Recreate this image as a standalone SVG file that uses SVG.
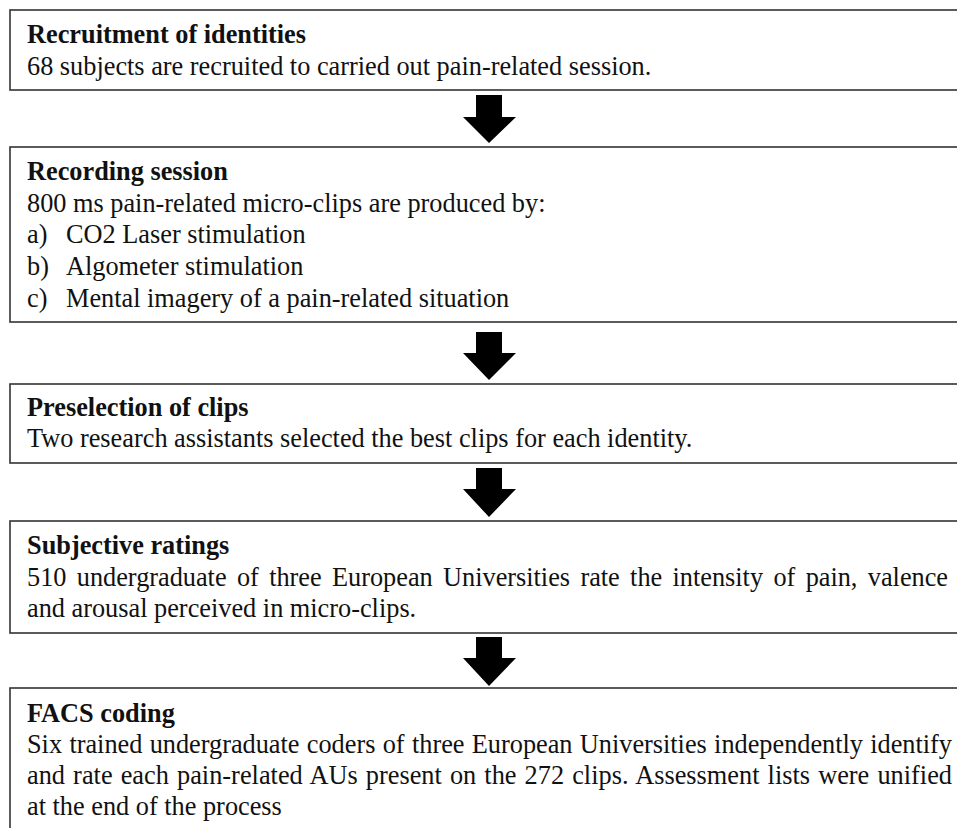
<svg xmlns="http://www.w3.org/2000/svg" width="957" height="828" viewBox="0 0 957 828">
<style>
.box{fill:#fff;stroke:#333;stroke-width:1.6}
.t{font-family:"Liberation Serif","Times New Roman",serif;font-size:26.3px;fill:#111}
.h{font-weight:bold}
.arr{fill:#000}
</style>
<rect width="957" height="828" fill="#fff"/>
<g id="connectors">
<path class="arr" d="M476,95 H502 V117 H516 L489,143 L463,117 H476 Z"/>
<path class="arr" d="M476,332 H502 V353 H516 L489,380 L463,353 H476 Z"/>
<path class="arr" d="M476,468 H502 V489 H516 L489,517 L463,489 H476 Z"/>
<path class="arr" d="M476,637 H502 V658 H516 L489,686 L463,658 H476 Z"/>
</g>
<g id="n1">
<rect class="box" x="10" y="10" width="958" height="80"/>
<text class="t h" x="27" y="43">Recruitment of identities</text>
<text class="t" x="27" y="75">68 subjects are recruited to carried out pain-related session.</text>
</g>
<g id="n2">
<rect class="box" x="10" y="147" width="958" height="175"/>
<text class="t h" x="27" y="180">Recording session</text>
<text class="t" x="27" y="212">800 ms pain-related micro-clips are produced by:</text>
<text class="t" x="27" y="243">a)</text><text class="t" x="66" y="243">CO2 Laser stimulation</text>
<text class="t" x="27" y="275">b)</text><text class="t" x="66" y="275">Algometer stimulation</text>
<text class="t" x="27" y="307">c)</text><text class="t" x="66" y="307">Mental imagery of a pain-related situation</text>
</g>
<g id="n3">
<rect class="box" x="10" y="384" width="958" height="79"/>
<text class="t h" x="27" y="416">Preselection of clips</text>
<text class="t" x="27" y="447">Two research assistants selected the best clips for each identity.</text>
</g>
<g id="n4">
<rect class="box" x="10" y="521" width="958" height="112"/>
<text class="t h" x="27" y="554">Subjective ratings</text>
<text class="t" x="27" y="586" textLength="921" lengthAdjust="spacing" word-spacing="3.8">510 undergraduate of three European Universities rate the intensity of pain, valence</text>
<text class="t" x="27" y="617">and arousal perceived in micro-clips.</text>
</g>
<g id="n5">
<rect class="box" x="10" y="688" width="958" height="160"/>
<text class="t h" x="27" y="722">FACS coding</text>
<text class="t" x="27" y="753" textLength="925" lengthAdjust="spacing" word-spacing="0.8">Six trained undergraduate coders of three European Universities independently identify</text>
<text class="t" x="27" y="784" textLength="925" lengthAdjust="spacing" word-spacing="1.5">and rate each pain-related AUs present on the 272 clips. Assessment lists were unified</text>
<text class="t" x="27" y="815">at the end of the process</text>
</g>
</svg>
